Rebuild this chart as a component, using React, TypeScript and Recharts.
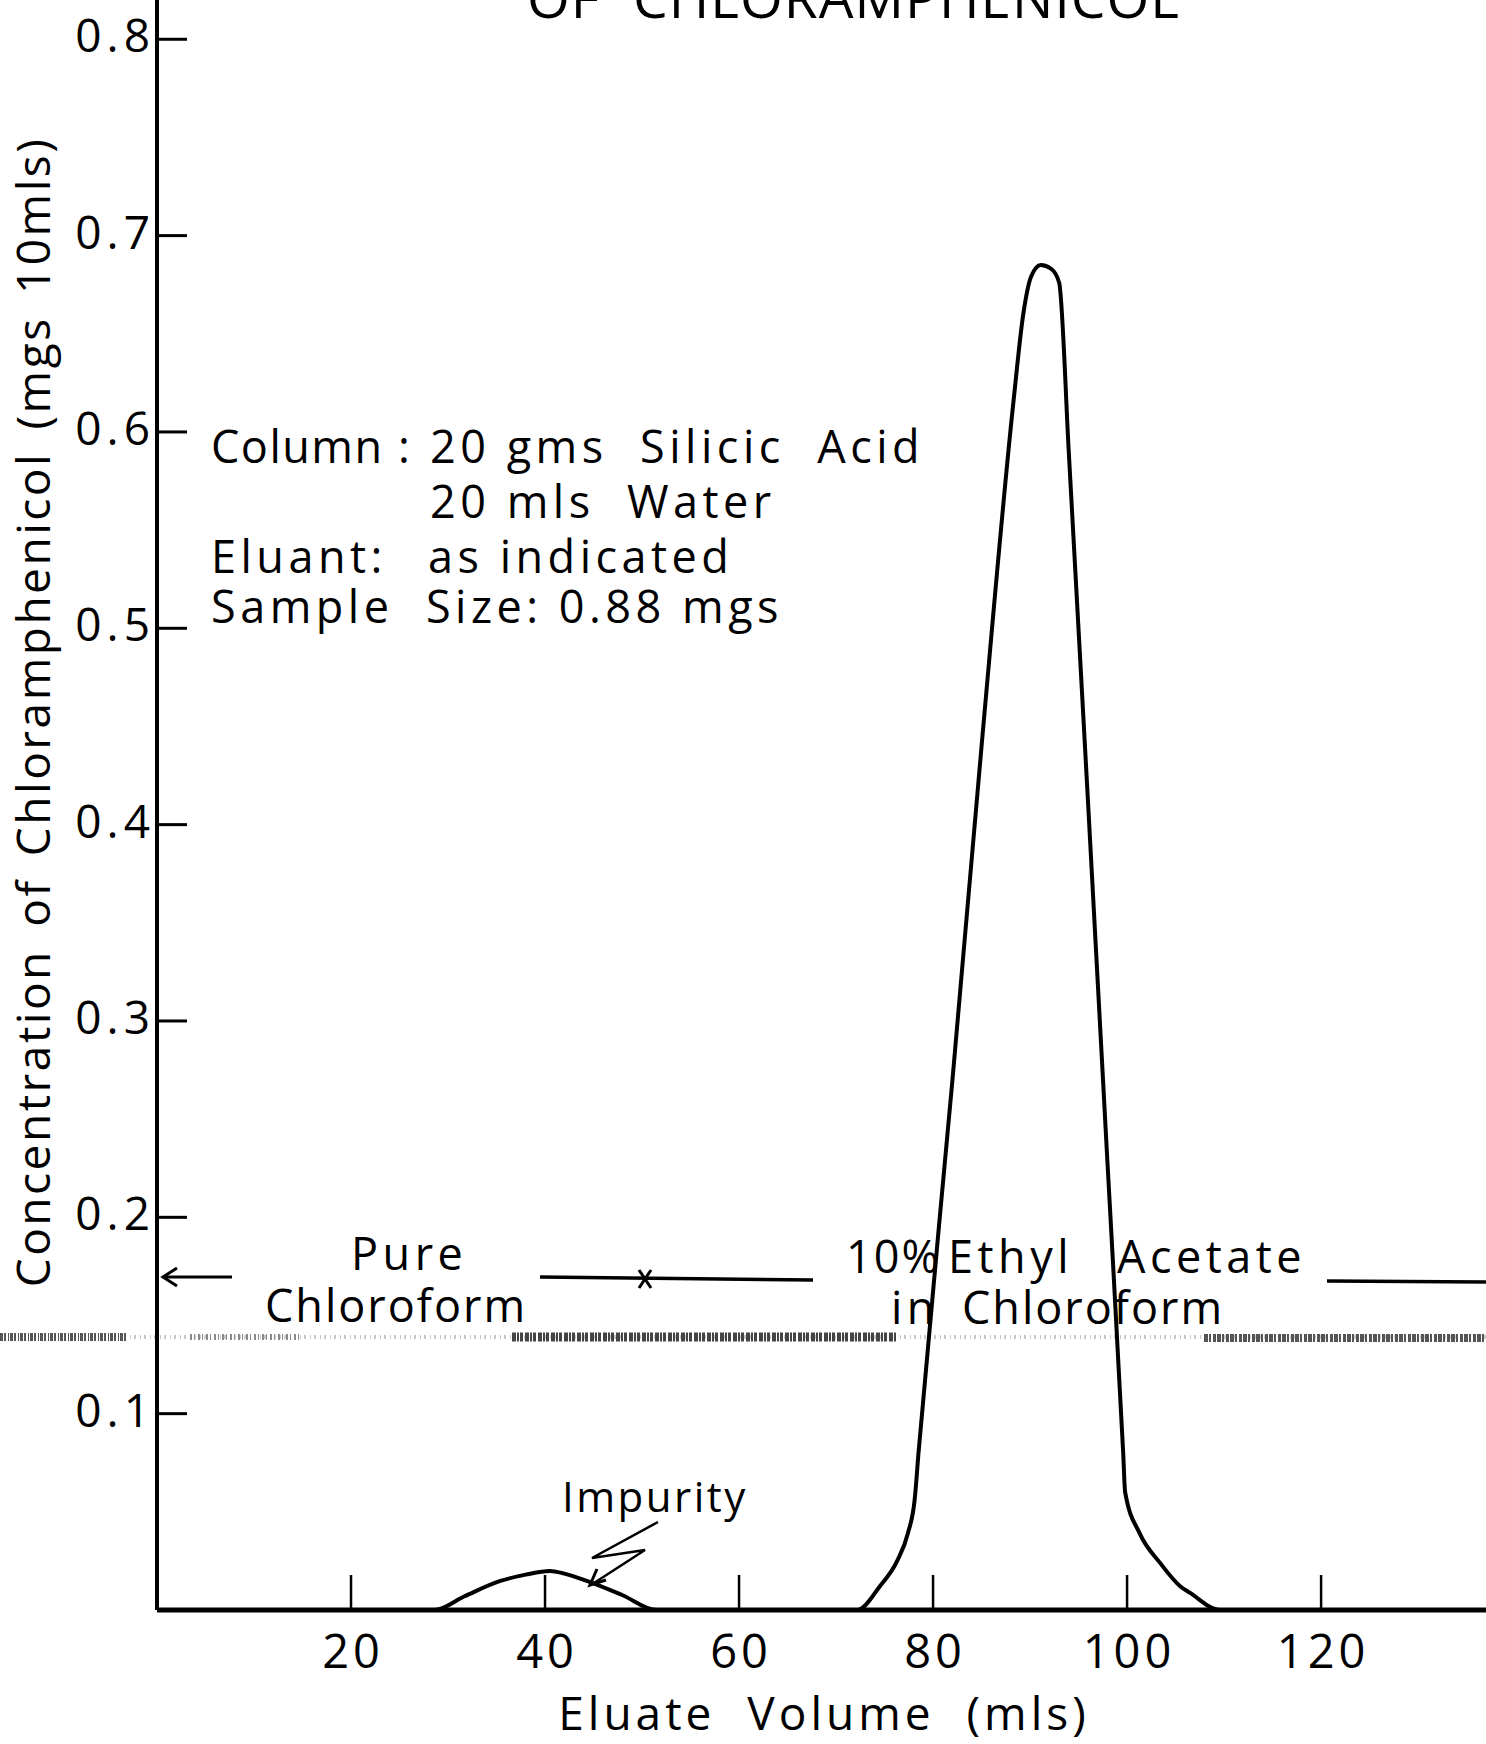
import { Customized, Line, LineChart, XAxis, YAxis } from "recharts";

// eluate volume (mls) and concentration (mgs / 10mls)
const volume = [
    0, 28.6, 31.7, 35.4, 38, 40.5, 42, 44.3, 48, 51.5,
    72.2, 74.5, 76.3, 77.4, 78.1, 78.5, 82, 85, 88.3, 89.3, 90.1, 91.1, 92.2, 93.0,
    94, 96, 98, 99.6, 99.8, 101.3, 103.4, 105.5, 106.5, 109.6, 137
];
const concentration = [
    0, 0, 0.007, 0.0148, 0.018, 0.0199, 0.0185, 0.0148, 0.0075, 0,
    0, 0.012, 0.025, 0.039, 0.056, 0.08, 0.27, 0.44, 0.616, 0.66, 0.679, 0.685, 0.683, 0.676,
    0.589, 0.409, 0.226, 0.08, 0.06, 0.039, 0.024, 0.012, 0.0087, 0, 0
];
const xTicks = [20, 40, 60, 80, 100, 120];
const yTicks = [0.1, 0.2, 0.3, 0.4, 0.5, 0.6, 0.7, 0.8];

const rows = volume.map((v, i) => ({ volume: v, conc: concentration[i] }));

const font = "'Open Sans', sans-serif";

const YTick = (props: any) => {
    const { x, y, payload } = props;
    return (
        <g>
            <line x1={x} x2={x + 30} y1={y} y2={y} stroke="#000" strokeWidth={3} />
            <text x={x - 2} y={y + 13} textAnchor="end" fontFamily={font}
                fontSize={46} letterSpacing={5} fill="#000">
                {payload.value.toFixed(1)}
            </text>
        </g>
    );
};

const XTick = (props: any) => {
    const { x, y, payload } = props;
    return (
        <g>
            <line x1={x} x2={x} y1={y} y2={y - 35} stroke="#000" strokeWidth={2.5} />
            <text x={x + 2} y={y + 58} textAnchor="middle" fontFamily={font}
                fontSize={47} letterSpacing={4} fill="#000">
                {payload.value}
            </text>
        </g>
    );
};

const txt = { fontFamily: font, fontSize: 45, letterSpacing: 4.5, fill: "#000", style: { whiteSpace: "pre" as const } };

const Annotations = () => (
    <g>
        {/* scan noise band */}
        <line x1={0} x2={1486} y1={1337} y2={1337} stroke="#c8c8c8" strokeWidth={4} strokeDasharray="1 3 2 4" />
        <line x1={0} x2={128} y1={1337} y2={1337} stroke="#555" strokeWidth={8} strokeDasharray="3 1 2 2 1 1" />
        <line x1={190} x2={300} y1={1337} y2={1337} stroke="#8a8a8a" strokeWidth={6} strokeDasharray="2 2 1 3" />
        <line x1={512} x2={896} y1={1337} y2={1337} stroke="#444" strokeWidth={9} strokeDasharray="4 1 2 1 3 2" />
        <line x1={1204} x2={1486} y1={1338} y2={1338} stroke="#555" strokeWidth={8} strokeDasharray="4 1 2 2 3 1" />

        {/* title, cut by the top edge */}
        <text x={527} y={18} fontFamily={font} fontSize={55} letterSpacing={1} fill="#000">OF</text>
        <text x={633} y={18} fontFamily={font} fontSize={55} letterSpacing={1} fill="#000">CHLORAMPHENICOL</text>

        {/* conditions block */}
        <text x={211} y={463} {...txt} letterSpacing={1.5}>Column</text>
        <text x={398} y={463} {...txt}>:</text>
        <text x={430} y={463} {...txt}>20 gms  Silicic  Acid</text>
        <text x={430} y={518} {...txt}>20 mls  Water</text>
        <text x={211} y={573} {...txt}>Eluant:</text>
        <text x={428} y={573} {...txt}>as indicated</text>
        <text x={211} y={623} {...txt}>Sample  Size: 0.88 mgs</text>

        {/* eluant bands */}
        <text x={351} y={1270} {...txt}>Pure</text>
        <text x={265} y={1322} {...txt} letterSpacing={2}>Chloroform</text>
        <line x1={163} x2={232} y1={1277} y2={1277} stroke="#000" strokeWidth={3} />
        <polyline points="177,1268 163,1277 177,1286" fill="none" stroke="#000" strokeWidth={3} />
        <line x1={540} x2={813} y1={1277} y2={1280} stroke="#000" strokeWidth={3.5} />
        <line x1={639} x2={651} y1={1270} y2={1288} stroke="#000" strokeWidth={3} />
        <line x1={651} x2={639} y1={1270} y2={1288} stroke="#000" strokeWidth={3} />
        <text x={846} y={1273} {...txt} letterSpacing={2}>10%</text>
        <text x={948} y={1273} {...txt}>Ethyl</text>
        <text x={1117} y={1273} {...txt}>Acetate</text>
        <line x1={1327} x2={1486} y1={1281} y2={1282} stroke="#000" strokeWidth={3.5} />
        <text x={891} y={1324} {...txt}>in</text>
        <text x={962} y={1324} {...txt} letterSpacing={2}>Chloroform</text>

        {/* impurity label with zig-zag arrow */}
        <text x={562} y={1512} {...txt} fontSize={42} letterSpacing={2.5}>Impurity</text>
        <polyline points="658,1522 592,1558 645,1550 594,1583" fill="none" stroke="#000" strokeWidth={2.5} />
        <polyline points="597,1569 590,1585 606,1580" fill="none" stroke="#000" strokeWidth={3} />

        {/* axis titles */}
        <text x={824} y={1730} textAnchor="middle" fontFamily={font} fontSize={46}
            letterSpacing={4} fill="#000" style={{ whiteSpace: "pre" }}>Eluate  Volume  (mls)</text>
        <text x={0} y={0} transform="translate(50,712) rotate(-90)" textAnchor="middle"
            fontFamily={font} fontSize={46} letterSpacing={2.5} wordSpacing={8} fill="#000">
            Concentration of Chloramphenicol (mgs 10mls)
        </text>
    </g>
);

export default function App() {
    return (
        <div style={{ position: "absolute", left: 0, top: 0, width: 1486, height: 1744, background: "#fff" }}>
            <LineChart width={1486} height={1744} data={rows}
                margin={{ top: 0, right: 0, left: 0, bottom: 0 }}>
                <XAxis
                    type="number"
                    dataKey="volume"
                    domain={[0, 137]}
                    ticks={xTicks}
                    height={134}
                    axisLine={{ stroke: "#000", strokeWidth: 5 }}
                    tickLine={false}
                    tickSize={0}
                    tickMargin={0}
                    tick={<XTick />}
                    interval={0}
                />
                <YAxis
                    type="number"
                    domain={[0, 0.82]}
                    ticks={yTicks}
                    width={157}
                    axisLine={{ stroke: "#000", strokeWidth: 4 }}
                    tickLine={false}
                    tickSize={0}
                    tickMargin={0}
                    tick={<YTick />}
                    interval={0}
                />
                <Line
                    dataKey="conc"
                    type="monotone"
                    stroke="#000"
                    strokeWidth={4}
                    dot={false}
                    isAnimationActive={false}
                />
                <Customized component={<Annotations />} />
            </LineChart>
        </div>
    );
}
